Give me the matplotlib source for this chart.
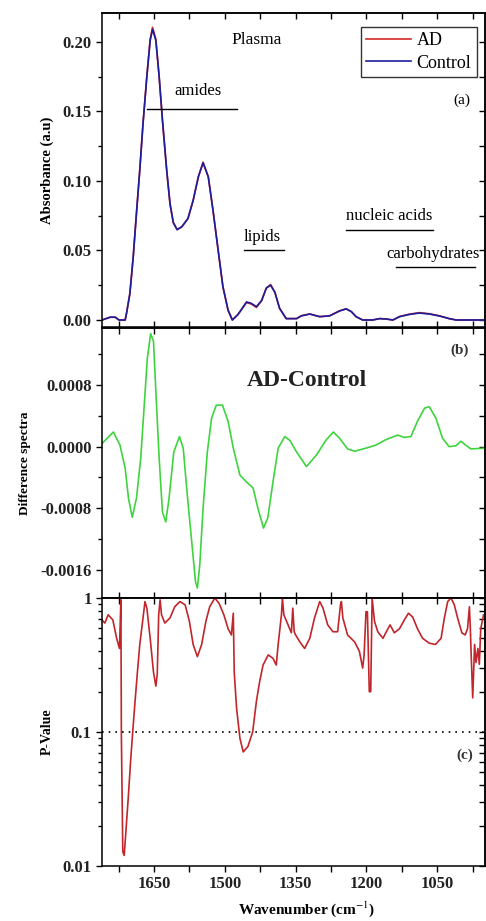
# ______________________________________________________________________________
#
# Plasma FTIR spectra : AD vs Control, difference spectrum and p-values
#
# ______________________________________________________________________________

import numpy as np
import matplotlib
matplotlib.use("Agg")
import matplotlib.pyplot as plt
from matplotlib.ticker import MultipleLocator, NullFormatter

# ______________________________________________________________________________
# Les donnees

# (a) absorbance
wn_abs = [1760, 1743, 1732, 1724, 1711, 1708, 1701, 1694, 1687, 1680, 1673, 1665,
          1658, 1653, 1646, 1639, 1632, 1623, 1616, 1609, 1601, 1591, 1578, 1567,
          1556, 1546, 1535, 1525, 1514, 1504, 1493, 1484, 1472, 1454, 1444, 1433,
          1422, 1412, 1403, 1394, 1384, 1370, 1348, 1338, 1320, 1299, 1278, 1257,
          1243, 1232, 1222, 1208, 1187, 1172, 1158, 1144, 1130, 1109, 1088, 1067,
          1046, 1025, 1010, 948]
control = [0.0, 0.002, 0.002, 0.0, 0.0, 0.005, 0.019, 0.045, 0.077, 0.108, 0.142, 0.175,
           0.201, 0.209, 0.201, 0.175, 0.144, 0.108, 0.084, 0.070, 0.065, 0.067, 0.073, 0.086,
           0.103, 0.113, 0.103, 0.079, 0.050, 0.024, 0.007, 0.0, 0.004, 0.013, 0.012, 0.0096,
           0.014, 0.023, 0.025, 0.020, 0.0084, 0.001, 0.001, 0.003, 0.0043, 0.0024, 0.003, 0.0065,
           0.008, 0.006, 0.0024, 0.0, 0.0, 0.001, 0.0007, 0.0, 0.0024, 0.004, 0.005, 0.0043,
           0.0029, 0.001, 0.0, 0.0]
ad = [0.0, 0.002, 0.002, 0.0, 0.0, 0.005, 0.019, 0.045, 0.077, 0.108, 0.142, 0.176,
      0.202, 0.2105, 0.202, 0.175, 0.143, 0.107, 0.083, 0.070, 0.065, 0.067, 0.073, 0.086,
      0.103, 0.1135, 0.103, 0.079, 0.050, 0.024, 0.007, 0.0, 0.004, 0.0125, 0.0115, 0.009,
      0.014, 0.023, 0.0255, 0.020, 0.0084, 0.001, 0.001, 0.003, 0.0043, 0.0024, 0.003, 0.0066,
      0.008, 0.006, 0.0024, 0.0, 0.0, 0.001, 0.0007, 0.0, 0.0025, 0.0042, 0.0053, 0.0045,
      0.0031, 0.001, 0.0, 0.0]

# (b) spectre difference AD-Control
wn_diff = [1760, 1736, 1722, 1711, 1704, 1696, 1687, 1678, 1671, 1664, 1657, 1651,
           1646, 1639, 1632, 1625, 1618, 1608, 1596, 1588, 1580, 1570, 1562, 1558,
           1553, 1546, 1537, 1528, 1518, 1505, 1493, 1482, 1468, 1454, 1440, 1430,
           1418, 1409, 1398, 1387, 1373, 1362, 1348, 1327, 1306, 1285, 1270, 1257,
           1240, 1225, 1201, 1180, 1159, 1134, 1120, 1106, 1092, 1077, 1067, 1053,
           1039, 1025, 1011, 1000, 990, 979, 948]
diff = [0.00004, 0.00019, 0.00002, -0.00028, -0.00067, -0.00092, -0.00067, -0.00015,
        0.0005, 0.00115, 0.00147, 0.00137, 0.00072, -0.00015, -0.00085, -0.00098,
        -0.00067, -0.00007, 0.00013, -0.00002, -0.00059, -0.00124, -0.00176, -0.00184,
        -0.00154, -0.0008, -0.00007, 0.00037, 0.00054, 0.00054, 0.00033, -0.00002,
        -0.00037, -0.00046, -0.00054, -0.0008, -0.00106, -0.00093, -0.00046, -0.00002,
        0.00013, 0.00008, -0.00007, -0.00026, -0.00011, 0.00009, 0.00019, 0.00011,
        -0.00003, -0.00006, -0.00002, 0.00002, 0.00009, 0.00015, 0.00012, 0.00013,
        0.00033, 0.0005, 0.00052, 0.00037, 0.00011, 0.0, 0.00001, 0.00007,
        0.00002, -0.00003, -0.00002]

# (c) p-value
wn_p = [1760, 1754, 1747, 1737, 1729, 1723, 1720, 1719, 1716, 1713, 1709, 1704,
        1699, 1695, 1690, 1685, 1680, 1674, 1669, 1665, 1658, 1651, 1646, 1643,
        1640, 1637, 1634, 1627, 1616, 1606, 1595, 1584, 1575, 1567, 1558, 1549,
        1540, 1532, 1521, 1512, 1502, 1493, 1486, 1482, 1480, 1475, 1468, 1461,
        1451, 1441, 1433, 1426, 1419, 1408, 1398, 1391, 1387, 1380, 1378, 1375,
        1366, 1359, 1356, 1353, 1350, 1341, 1331, 1320, 1310, 1299, 1292, 1282,
        1271, 1261, 1255, 1253, 1250, 1240, 1225, 1215, 1208, 1205, 1201, 1198,
        1194, 1191, 1188, 1183, 1176, 1165, 1158, 1150, 1141, 1130, 1120, 1111,
        1102, 1092, 1081, 1067, 1054, 1042, 1035, 1028, 1021, 1014, 1007, 998,
        991, 986, 982, 980, 979, 975, 971, 968, 964, 961, 958, 952, 948]
pval = [0.685, 0.65, 0.75, 0.685, 0.50, 0.42, 0.97, 0.095, 0.0128, 0.012, 0.019, 0.034,
        0.064, 0.10, 0.17, 0.28, 0.45, 0.67, 0.94, 0.84, 0.50, 0.28, 0.22, 0.27,
        0.75, 0.97, 0.75, 0.65, 0.71, 0.86, 0.94, 0.89, 0.67, 0.45, 0.365, 0.45,
        0.67, 0.86, 1.0, 0.91, 0.75, 0.59, 0.53, 0.77, 0.28, 0.15, 0.09, 0.071,
        0.078, 0.10, 0.17, 0.24, 0.316, 0.376, 0.355, 0.316, 0.45, 0.75, 1.0, 0.75,
        0.63, 0.55, 0.84, 0.56, 0.53, 0.47, 0.42, 0.50, 0.71, 0.94, 0.84, 0.63,
        0.56, 0.56, 0.89, 0.94, 0.71, 0.53, 0.47, 0.40, 0.30, 0.376, 0.79, 0.79,
        0.20, 0.20, 1.0, 0.67, 0.56, 0.50, 0.56, 0.63, 0.55, 0.59, 0.685, 0.77,
        0.72, 0.59, 0.50, 0.46, 0.45, 0.50, 0.71, 0.94, 1.0, 0.89, 0.71, 0.55,
        0.53, 0.59, 0.86, 0.59, 0.45, 0.18, 0.45, 0.33, 0.42, 0.32, 0.59, 0.75, 0.75]

# bandes annotees : (texte, x texte, y texte, x debut, x fin, y trait)
bands = [("amides", 1557, 0.159, 1664, 1475, 0.152),
         ("lipids", 1420, 0.054, 1460, 1374, 0.050),
         ("nucleic acids", 1151, 0.069, 1243, 1060, 0.065),
         ("carbohydrates", 1060, 0.042, 1138, 970, 0.038)]

# ______________________________________________________________________________
# RCParams

plt.rcParams['font.family'] = ['Liberation Serif', 'DejaVu Serif']
plt.rcParams['mathtext.fontset'] = 'stix'
plt.rcParams['font.size'] = 11
plt.rcParams['axes.linewidth'] = 1.1
plt.rcParams['xtick.major.width'] = 1.0
plt.rcParams['ytick.major.width'] = 1.0
plt.rcParams['xtick.minor.width'] = 1.0
plt.rcParams['ytick.minor.width'] = 1.0
plt.rcParams['xtick.major.size'] = 4
plt.rcParams['xtick.minor.size'] = 4
plt.rcParams['ytick.major.size'] = 4
plt.rcParams['ytick.minor.size'] = 3

tick_kw = dict(labelsize=12, labelcolor='#222222')

fig = plt.figure(figsize=(4.86, 9.21), dpi=100)
left, width = 0.2099, 0.789
ax0 = fig.add_axes([left, 0.645, width, 0.3411])
ax1 = fig.add_axes([left, 0.3507, width, 0.2932])
ax2 = fig.add_axes([left, 0.0597, width, 0.2910])

for ax in (ax0, ax1, ax2):
    ax.set_xlim(1760, 948)
    ax.xaxis.set_major_locator(MultipleLocator(150))
    ax.xaxis.set_minor_locator(MultipleLocator(75))
    ax.tick_params(axis='y', which='both', direction='out', left=True, right=False)
    ax.tick_params(axis='x', which='both', top=False, bottom=True,
                   direction='out' if ax is ax2 else 'in')
    ax.tick_params(**tick_kw)
    # ticks a droite et en haut, vers l'interieur
    sy = ax.secondary_yaxis('right')
    sy.tick_params(which='both', direction='in', labelright=False, length=4)
    sx = ax.secondary_xaxis('top')
    sx.xaxis.set_major_locator(MultipleLocator(150))
    sx.xaxis.set_minor_locator(MultipleLocator(75))
    sx.tick_params(which='both', direction='in', labeltop=False, length=4)
    ax._sy = sy

# ______________________________________________________________________________
# (a) absorbance

ax0.plot(wn_abs, ad, color='#d42a2a', lw=1.2, label='AD')
ax0.plot(wn_abs, control, color='#1c1c9c', lw=1.2, label='Control')
ax0.set_ylim(-0.005, 0.2209)
ax0.yaxis.set_major_locator(MultipleLocator(0.05))
ax0.yaxis.set_minor_locator(MultipleLocator(0.025))
ax0.yaxis.set_major_formatter(matplotlib.ticker.FormatStrFormatter('%.2f'))
ax0._sy.yaxis.set_major_locator(MultipleLocator(0.025))
ax0.tick_params(labelbottom=False)
ax0.set_ylabel("Absorbance (a.u)", fontsize=10.5, fontweight='bold')
ax0.yaxis.set_label_coords(-0.125, 0.5)

for txt, xt, yt, x1, x2, yl in bands:
    ax0.plot([x1, x2], [yl, yl], color='k', lw=1.0)
    ax0.text(xt, yt, txt, ha='center', va='bottom', fontsize=12)

ax0.text(0.404, 0.914, "Plasma", transform=ax0.transAxes, ha='center', va='center',
         fontsize=12.5)
ax0.text(0.9375, 0.723, "(a)", transform=ax0.transAxes, ha='center', va='center',
         fontsize=11)
leg = ax0.legend(loc='upper right', bbox_to_anchor=(0.977, 0.955), fontsize=13,
                 frameon=True, fancybox=False, edgecolor='k', handlelength=2.5,
                 handletextpad=0.3, borderpad=0.3, labelspacing=0.3, borderaxespad=0)
leg.get_frame().set_linewidth(1.0)

# ______________________________________________________________________________
# (b) spectre difference

ax1.plot(wn_diff, diff, color='#3fd43f', lw=1.2)
ax1.set_ylim(-0.00197, 0.001544)
ax1.yaxis.set_major_locator(MultipleLocator(0.0008))
ax1.yaxis.set_minor_locator(MultipleLocator(0.0004))
ax1.yaxis.set_major_formatter(matplotlib.ticker.FormatStrFormatter('%.4f'))
ax1._sy.yaxis.set_major_locator(MultipleLocator(0.0004))
ax1.tick_params(labelbottom=False)
ax1.set_ylabel("Difference spectra", fontsize=9.5, fontweight='bold')
ax1.yaxis.set_label_coords(-0.185, 0.5)
ax1.text(0.534, 0.804, "AD-Control", transform=ax1.transAxes, ha='center', va='center',
         fontsize=17, fontweight='bold', color='#222222')
ax1.text(0.932, 0.918, "(b)", transform=ax1.transAxes, ha='center', va='center',
         fontsize=11, fontweight='bold', color='#333333')

# ______________________________________________________________________________
# (c) p-value

ax2.set_yscale('log')
ax2.plot(wn_p, pval, color='#c0262b', lw=1.2)
ax2.axhline(0.1, color='k', lw=1.2, ls=(0, (1, 3)))
ax2.set_ylim(0.01, 1)
ax2.yaxis.set_major_formatter(matplotlib.ticker.FuncFormatter(lambda v, p: '%g' % v))
ax2.yaxis.set_minor_formatter(NullFormatter())
ax2.set_ylabel("P-Value", fontsize=10, fontweight='bold')
ax2.yaxis.set_label_coords(-0.125, 0.5)
ax2.set_xlabel("Wavenumber (cm$^{-1}$)", fontsize=11, fontweight='bold')
ax2.xaxis.set_label_coords(0.534, -0.125)
ax2.text(0.945, 0.414, "(c)", transform=ax2.transAxes, ha='center', va='center',
         fontsize=11, fontweight='bold', color='#333333')

for ax in (ax0, ax1, ax2):
    for lab in ax.get_yticklabels() + ax.get_xticklabels():
        lab.set_fontweight('bold')

fig.savefig("out.png", dpi=100)
